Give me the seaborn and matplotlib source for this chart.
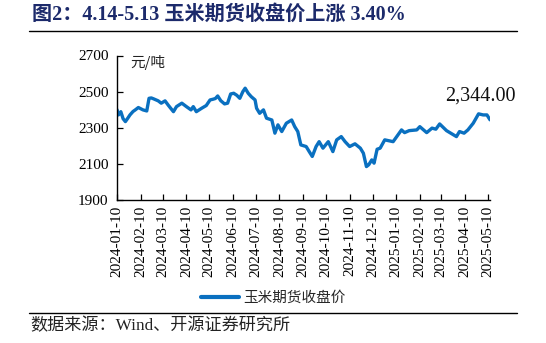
import matplotlib
matplotlib.use("Agg")
import matplotlib.pyplot as plt
import matplotlib.dates as mdates
from matplotlib.lines import Line2D
import pandas as pd
import seaborn as sns

# Corn futures closing price (yuan / tonne)
dates = [
    "2024-01-10", "2024-01-12", "2024-01-15", "2024-01-18", "2024-01-21", "2024-01-24",
    "2024-01-27", "2024-01-31", "2024-02-03", "2024-02-07", "2024-02-13", "2024-02-18",
    "2024-02-21", "2024-02-24", "2024-02-27", "2024-03-04", "2024-03-08", "2024-03-13",
    "2024-03-17", "2024-03-20", "2024-03-24", "2024-03-28", "2024-04-01", "2024-04-04",
    "2024-04-10", "2024-04-16", "2024-04-19", "2024-04-23", "2024-04-30", "2024-05-06",
    "2024-05-11", "2024-05-15", "2024-05-18", "2024-05-21", "2024-05-25", "2024-05-30",
    "2024-06-03", "2024-06-07", "2024-06-11", "2024-06-15", "2024-06-19", "2024-06-23",
    "2024-06-26", "2024-06-30", "2024-07-04", "2024-07-09", "2024-07-11", "2024-07-15",
    "2024-07-20", "2024-07-24", "2024-07-31", "2024-08-04", "2024-08-08", "2024-08-13",
    "2024-08-19", "2024-08-26", "2024-08-30", "2024-09-03", "2024-09-07", "2024-09-14",
    "2024-09-18", "2024-09-22", "2024-09-27", "2024-10-01", "2024-10-06", "2024-10-13",
    "2024-10-19", "2024-10-24", "2024-10-30", "2024-11-04", "2024-11-10", "2024-11-17",
    "2024-11-24", "2024-11-28", "2024-12-02", "2024-12-05", "2024-12-09", "2024-12-12",
    "2024-12-16", "2024-12-20", "2024-12-26", "2025-01-06", "2025-01-17", "2025-01-21",
    "2025-01-27", "2025-02-06", "2025-02-10", "2025-02-19", "2025-02-26", "2025-03-03",
    "2025-03-08", "2025-03-17", "2025-03-30", "2025-04-03", "2025-04-09", "2025-04-14",
    "2025-04-21", "2025-04-28", "2025-05-04", "2025-05-09", "2025-05-13",
]
close = [
    2400, 2371, 2389, 2350, 2334, 2352,
    2371, 2390, 2399, 2412, 2399, 2393,
    2463, 2465, 2460, 2449, 2436, 2449,
    2426, 2410, 2389, 2417, 2428, 2436,
    2417, 2399, 2417, 2389, 2408, 2423,
    2454, 2458, 2462, 2476, 2450, 2432,
    2436, 2487, 2491, 2480, 2463, 2500,
    2519, 2491, 2472, 2454, 2408, 2380,
    2399, 2353, 2343, 2270, 2316, 2279,
    2325, 2343, 2306, 2279, 2205, 2196,
    2168, 2141, 2196, 2223, 2187, 2223,
    2168, 2233, 2251, 2223, 2196, 2211,
    2187, 2159, 2085, 2095, 2122, 2104,
    2181, 2187, 2233, 2223, 2288, 2273,
    2284, 2288, 2306, 2273, 2298, 2292,
    2321, 2284, 2251, 2279, 2270, 2288,
    2325, 2377, 2371, 2371, 2344,
]
tick_dates = pd.date_range("2024-01-01", "2025-05-01", freq="MS") + pd.Timedelta(days=9)
y_ticks = [1900, 2100, 2300, 2500, 2700]

series_name = "玉米期货收盘价"
df = pd.DataFrame({"日期": pd.to_datetime(dates), series_name: close})

sns.set_theme(style="ticks")
plt.rcParams["font.family"] = ["Liberation Serif", "Noto Sans CJK SC"]
plt.rcParams["axes.unicode_minus"] = False

W, H = 546, 343
fig = plt.figure(figsize=(W / 100, H / 100), dpi=100)
fig.patch.set_facecolor("white")

left, right, top, bottom = 117, 490, 55.5, 200
ax = fig.add_axes([left / W, 1 - bottom / H, (right - left) / W, (bottom - top) / H])

blue = "#0A70C0"
sns.lineplot(data=df, x="日期", y=series_name, ax=ax, color=blue, linewidth=2.4,
             label=series_name, legend=False)

ax.set_xlim(pd.Timestamp("2024-01-10"), pd.Timestamp("2025-05-13"))
ax.set_ylim(1900, 2700)
ax.set_yticks(y_ticks)
ax.set_xticks(tick_dates)
ax.xaxis.set_major_formatter(mdates.DateFormatter("%Y-%m-%d"))
ax.set_xlabel("")
ax.set_ylabel("")
for sp in ("top", "right"):
    ax.spines[sp].set_visible(False)
for sp in ("left", "bottom"):
    ax.spines[sp].set_color("black")
    ax.spines[sp].set_linewidth(1.0)
ax.tick_params(axis="both", direction="in", length=4, width=0.9, color="black",
               labelsize=11, labelcolor="black")
ax.tick_params(axis="x", rotation=90, pad=4)
ax.tick_params(axis="y", pad=6)
ax.set_facecolor("white")
for lab in ax.get_xticklabels() + ax.get_yticklabels():
    lab.set_family("Liberation Serif")

# unit label
fig.text(130 / W, 1 - 62 / H, "元/吨", fontsize=10.5, va="center", ha="left",
         family=["Noto Sans CJK SC"], color="#222222")

# last value label
last_x, last_y = df["日期"].iloc[-1], df[series_name].iloc[-1]
ax.annotate(f"{last_y:,.2f}", xy=(last_x, last_y), xytext=(-7, 17),
            textcoords="offset points", ha="center", va="center",
            fontsize=14.5, family="Liberation Serif", color="#111111",
            annotation_clip=False)

# legend below the axis
handles = [Line2D([0], [0], color=blue, linewidth=3)]
fig.legend(handles, [series_name], loc="center", bbox_to_anchor=(0.5, 1 - 298 / H),
           frameon=False, handlelength=2.6, handletextpad=0.3,
           prop={"family": "Noto Sans CJK SC", "size": 10.5})

# header and footer
fig.text(32 / W, 1 - 15 / H, "图2：4.14-5.13 玉米期货收盘价上涨 3.40%", fontsize=14.5,
         fontweight="bold", color="#1c2a6b", ha="left", va="center",
         family=["Liberation Serif", "Noto Sans CJK SC"])
fig.add_artist(Line2D([29 / W, 517 / W], [1 - 31 / H, 1 - 31 / H], color="black",
                      linewidth=1.0, transform=fig.transFigure))
fig.add_artist(Line2D([29 / W, 517 / W], [1 - 313 / H, 1 - 313 / H], color="black",
                      linewidth=1.0, transform=fig.transFigure))
fig.text(30 / W, 1 - 326 / H, "数据来源：Wind、开源证券研究所", fontsize=12.3,
         ha="left", va="center", color="#222222",
         family=["Liberation Serif", "Noto Sans CJK SC"])

fig.savefig("out.png", dpi=100, facecolor="white")
